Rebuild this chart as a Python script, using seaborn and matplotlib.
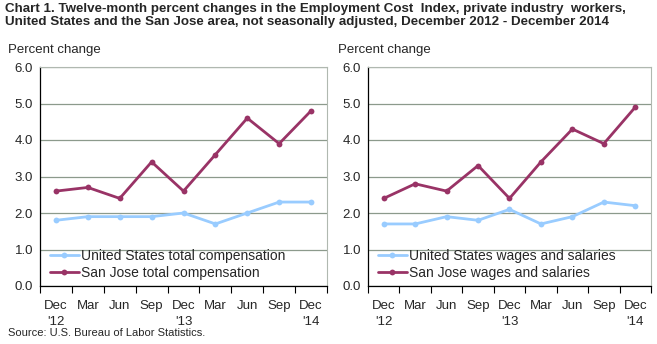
import matplotlib
matplotlib.use("Agg")
import matplotlib.pyplot as plt
import seaborn as sns
import pandas as pd
import numpy as np

months = ["Dec\n'12", "Mar", "Jun", "Sep", "Dec\n'13", "Mar", "Jun", "Sep", "Dec\n'14"]
us_total = [1.8, 1.9, 1.9, 1.9, 2.0, 1.7, 2.0, 2.3, 2.3]
sj_total = [2.6, 2.7, 2.4, 3.4, 2.6, 3.6, 4.6, 3.9, 4.8]
us_wages = [1.7, 1.7, 1.9, 1.8, 2.1, 1.7, 1.9, 2.3, 2.2]
sj_wages = [2.4, 2.8, 2.6, 3.3, 2.4, 3.4, 4.3, 3.9, 4.9]
y_ticks = [0.0, 1.0, 2.0, 3.0, 4.0, 5.0, 6.0]

sns.set_theme(style="white")
plt.rcParams['font.family'] = ['Liberation Sans', 'DejaVu Sans']

US_COLOR = "#99ccff"
SJ_COLOR = "#993366"

fig = plt.figure(figsize=(6.57, 3.44), dpi=100)
W, H = 657, 344

def make_ax(x0, x1, y0, y1):
    return fig.add_axes([x0 / W, 1 - y1 / H, (x1 - x0) / W, (y1 - y0) / H])

ax1 = make_ax(40, 327, 67, 286)
ax2 = make_ax(368, 651, 67, 286)

panels = [
    (ax1, us_total, sj_total, "United States total compensation", "San Jose total compensation"),
    (ax2, us_wages, sj_wages, "United States wages and salaries", "San Jose wages and salaries"),
]

for ax, us, sj, us_lab, sj_lab in panels:
    n = len(months)
    df = pd.DataFrame({
        "x": list(range(n)) * 2,
        "value": us + sj,
        "series": [us_lab] * n + [sj_lab] * n,
    })
    sns.lineplot(data=df, x="x", y="value", hue="series",
                 palette={us_lab: US_COLOR, sj_lab: SJ_COLOR},
                 marker="o", markersize=4.2, markeredgewidth=0, linewidth=2,
                 ax=ax, legend=True)
    ax.set_xlim(-0.5, n - 0.5)
    ax.set_ylim(0, 6)
    ax.set_yticks(y_ticks)
    ax.set_yticklabels([f"{v:.1f}" for v in y_ticks], fontsize=9.5)
    ax.set_xticks(np.arange(-0.5, n, 1.0))
    ax.set_xticklabels([])
    ax.set_xticks(range(n), minor=True)
    ax.set_xticklabels(months, minor=True, fontsize=9.5, linespacing=1.45)
    ax.tick_params(axis="x", which="major", direction="out", length=5, width=0.8, color="black", bottom=True)
    ax.tick_params(axis="x", which="minor", length=0, pad=10)
    ax.tick_params(axis="y", length=0, pad=5)
    ax.set_xlabel("")
    ax.set_ylabel("")
    ax.yaxis.grid(True, color="#8c9a8c", linewidth=0.9)
    ax.xaxis.grid(False)
    ax.set_axisbelow(True)
    for s in ["top", "right"]:
        ax.spines[s].set_color("#b0b8b0")
        ax.spines[s].set_linewidth(0.8)
    for s in ["left", "bottom"]:
        ax.spines[s].set_color("black")
        ax.spines[s].set_linewidth(0.9)
    ax.legend(loc="lower left", bbox_to_anchor=(0.005, -0.01), frameon=False,
              fontsize=10, handlelength=2.1, handletextpad=0.15,
              labelspacing=0.2, borderaxespad=0.2)

fig.text(5 / W, 1 - 3 / H,
         "Chart 1. Twelve-month percent changes in the Employment Cost  Index, private industry  workers,\n"
         "United States and the San Jose area, not seasonally adjusted, December 2012 - December 2014",
         fontsize=9.6, fontweight="bold", va="top", ha="left", linespacing=1.15)
fig.text(8 / W, 1 - 44 / H, "Percent change", fontsize=9.5, va="top", ha="left")
fig.text(338 / W, 1 - 44 / H, "Percent change", fontsize=9.5, va="top", ha="left")
fig.text(8 / W, 1 - 328 / H, "Source: U.S. Bureau of Labor Statistics.", fontsize=8, va="top", ha="left")

fig.savefig("out.png", dpi=100)
